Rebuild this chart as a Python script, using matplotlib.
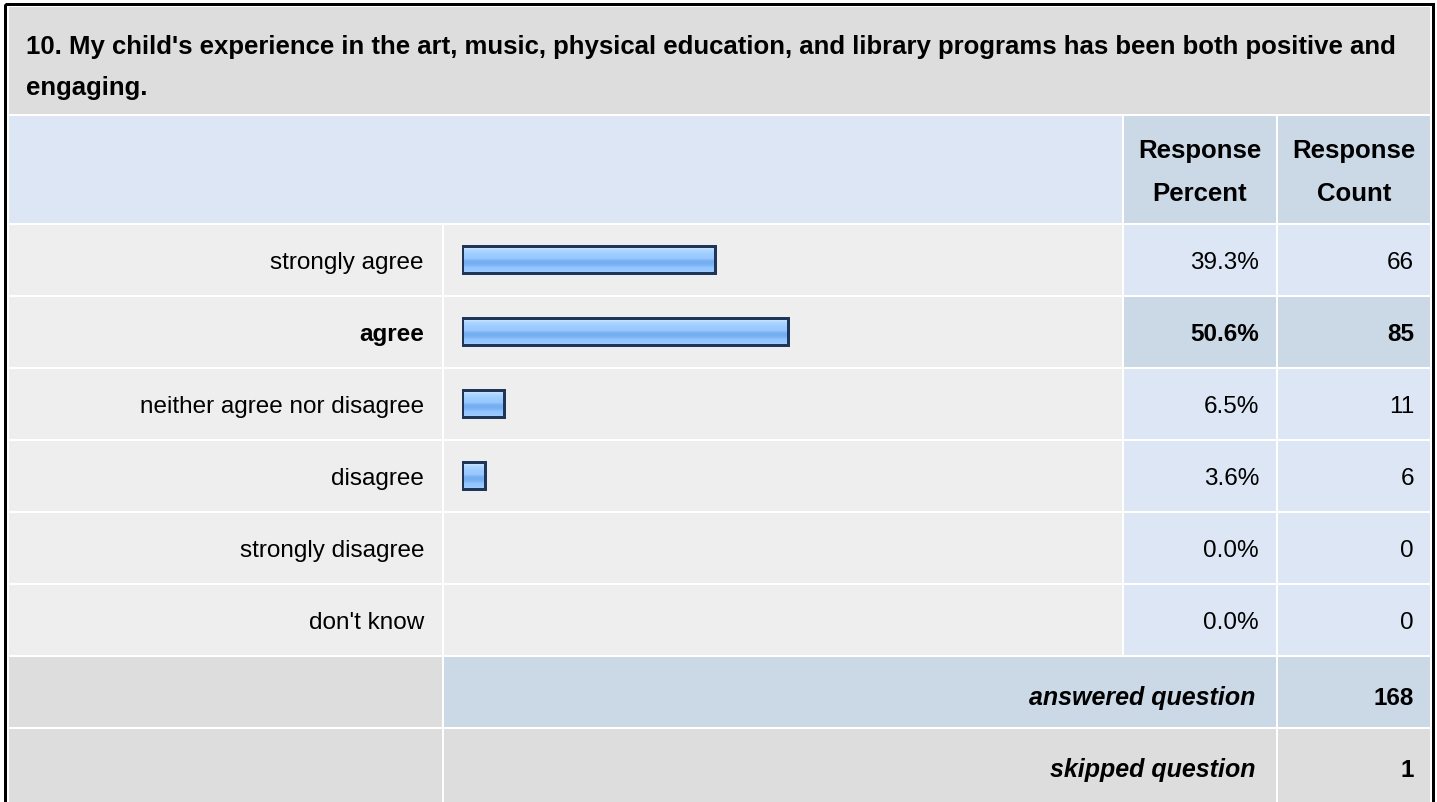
import matplotlib
matplotlib.use("Agg")
import matplotlib.pyplot as plt
from matplotlib.patches import Rectangle
from matplotlib.colors import to_rgb
import numpy as np

# ---------------- data ----------------
title_lines = ["10. My child's experience in the art, music, physical education, and library programs has been both positive and",
               "engaging."]
categories = ["strongly agree", "agree", "neither agree nor disagree", "disagree",
              "strongly disagree", "don't know"]
percents = [39.3, 50.6, 6.5, 3.6, 0.0, 0.0]
counts = [66, 85, 11, 6, 0, 0]
highlight = "agree"
col_headers = ["Response\nPercent", "Response\nCount"]
summary_labels = ["answered question", "skipped question"]
summary_values = [168, 1]

# ---------------- style ----------------
FONT = "Liberation Sans"
GRAY_TITLE = "#dddddd"
GRAY_ROW = "#eeeeee"
BLUE_LIGHT = "#dce6f4"
BLUE_MED = "#cbd8e6"
NAVY = "#1f3659"
grad_colors = ['#d0e8ff', '#b8dcff', '#a8d2ff', '#9fcdff', '#9acaff', '#98c8ff',
               '#7ab2f2', '#74aef0', '#7cb5f5', '#90c4ff', '#98c8ff', '#a0ccff']

W, H = 1437, 803
fig = plt.figure(figsize=(W / 100, H / 100), dpi=100)
fig.patch.set_facecolor("white")
bg = fig.add_axes([0, 0, 1, 1])
bg.set_xlim(0, W)
bg.set_ylim(H, 0)
bg.axis("off")


def cell(x0, x1, y0, y1, color):
    bg.add_patch(Rectangle((x0, y0), x1 - x0, y1 - y0, facecolor=color, lw=0, zorder=1))


# column edges (px)
XL0, XL1 = 9, 442
XB0, XB1 = 444, 1122
XP0, XP1 = 1124, 1276
XC0, XC1 = 1278, 1430
ROW_TOP0, ROW_PITCH, ROW_H = 226, 72, 70

# title
cell(XL0, XC1, 8, 115, GRAY_TITLE)
for line, yb in zip(title_lines, [54, 95]):
    bg.text(26, yb, line, fontsize=18.5, fontweight="bold", family=FONT,
            ha="left", va="baseline", zorder=5)

# header
cell(XL0, XB1, 117, 224, BLUE_LIGHT)
cell(XP0, XP1, 117, 224, BLUE_MED)
cell(XC0, XC1, 117, 224, BLUE_MED)
for (x0, x1), txt in zip([(XP0, XP1), (XC0, XC1)], col_headers):
    l1, l2 = txt.split("\n")
    cx = (x0 + x1) / 2
    bg.text(cx, 158, l1, fontsize=18.5, fontweight="bold", family=FONT, ha="center", va="baseline", zorder=5)
    bg.text(cx, 201, l2, fontsize=18.5, fontweight="bold", family=FONT, ha="center", va="baseline", zorder=5)

# response rows
n = len(categories)
for i, (cat, p, c) in enumerate(zip(categories, percents, counts)):
    y0 = ROW_TOP0 + i * ROW_PITCH
    y1 = y0 + ROW_H
    hl = (cat == highlight)
    cell(XL0, XL1, y0, y1, GRAY_ROW)
    cell(XB0, XB1, y0, y1, GRAY_ROW)
    cell(XP0, XP1, y0, y1, BLUE_MED if hl else BLUE_LIGHT)
    cell(XC0, XC1, y0, y1, BLUE_MED if hl else BLUE_LIGHT)
    base = (y0 + y1) / 2 + 8
    fw = "bold" if hl else "normal"
    bg.text(424, base, cat, fontsize=17.5, fontweight=fw, family=FONT, ha="right", va="baseline", zorder=5)
    bg.text(1259, base, f"{p:.1f}%", fontsize=17.5, fontweight=fw, family=FONT, ha="right", va="baseline", zorder=5)
    bg.text(1414, base, f"{c}", fontsize=17.5, fontweight=fw, family=FONT, ha="right", va="baseline", zorder=5)

# summary rows
for k, (lab, val) in enumerate(zip(summary_labels, summary_values)):
    y0 = ROW_TOP0 + (n + k) * ROW_PITCH
    y1 = y0 + ROW_H if k == 0 else H + 10
    mid_color = BLUE_MED if k == 0 else GRAY_TITLE
    cell(XL0, XL1, y0, y1, GRAY_TITLE)
    cell(XB0, XP1, y0, y1, mid_color)
    cell(XC0, XC1, y0, y1, mid_color)
    base = y0 + 47
    bg.text(1255, base, lab, fontsize=18, fontweight="bold", style="italic", family=FONT,
            ha="right", va="baseline", zorder=5)
    bg.text(1414, base, f"{val}", fontsize=17.5, fontweight="bold", family=FONT,
            ha="right", va="baseline", zorder=5)

# outer border
bg.add_patch(Rectangle((4.5, 4.5), 1428, H + 20, fill=False, ec="black", lw=3 * 0.72, zorder=6))

# ---------------- bars ----------------
bx0, bw = 462.0, 645
by0, bh = ROW_TOP0 - 1.5, n * ROW_PITCH
ax = fig.add_axes([bx0 / W, 1 - (by0 + bh) / H, bw / W, bh / H])
ax.patch.set_alpha(0)
ax.axis("off")
grad = np.array([to_rgb(c) for c in grad_colors]).reshape(-1, 1, 3)
h = 0.37
bars = ax.barh(range(n), percents, height=h, left=0, facecolor="none",
               edgecolor=NAVY, linewidth=3 * 0.72, zorder=3)
for i, (p, b) in enumerate(zip(percents, bars)):
    if p <= 0:
        b.set_visible(False)
        continue
    im = ax.imshow(grad, extent=(0, p, i + h / 2, i - h / 2), aspect="auto",
                   interpolation="bilinear", zorder=2)
    im.set_clip_path(b)
ax.set_xlim(0, 100)
ax.set_ylim(n - 0.5, -0.5)

fig.savefig("out.png", dpi=100)
